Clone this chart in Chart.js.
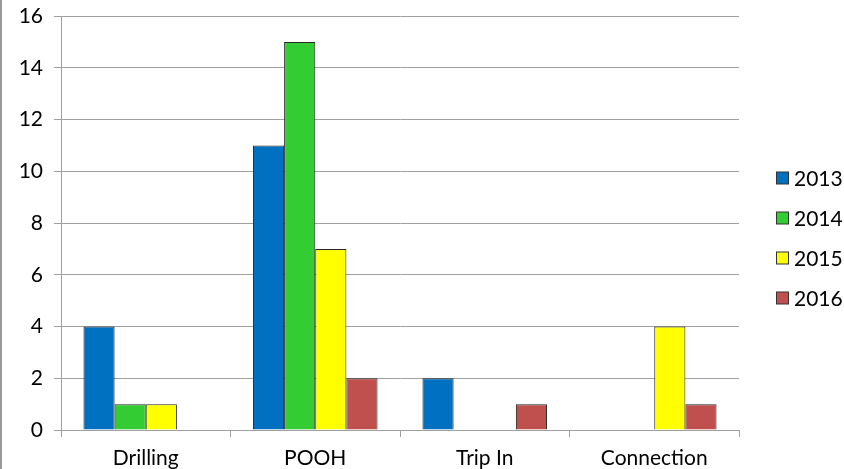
<!DOCTYPE html>
<html>
<head>
<meta charset="utf-8">
<script src="https://cdn.jsdelivr.net/npm/chart.js@4/dist/chart.umd.min.js"></script>
<style>
  html, body { margin: 0; padding: 0; background: #fff; }
  #wrap { width: 844px; height: 469px; position: relative; }
</style>
</head>
<body>
<div id="wrap"><canvas id="c" width="844" height="469"></canvas></div>
<script>
const categories = ['Drilling', 'POOH', 'Trip In', 'Connection'];
const years = ['2013', '2014', '2015', '2016'];
const values2013 = [4, 11, 2, 0];
const values2014 = [1, 15, 0, 0];
const values2015 = [1, 7, 0, 4];
const values2016 = [0, 2, 1, 1];
const yTicks = [0, 2, 4, 6, 8, 10, 12, 14, 16];

const colors = ['#0070C0', '#33CC33', '#FFFF00', '#C0504D'];
const series = [values2013, values2014, values2015, values2016];
const FONT = 'Lato, "Open Sans", sans-serif';
const FONT_SIZE = 21;

// Legend on the right, drawn manually for exact spacing
const sideLegend = {
  id: 'sideLegend',
  afterDraw(chart) {
    const ctx = chart.ctx;
    const ds = chart.data.datasets;
    const gap = 40;
    const mid = 238;
    const top = mid - gap * (ds.length - 1) / 2;
    ctx.save();
    ctx.font = FONT_SIZE + 'px ' + FONT;
    ctx.textBaseline = 'middle';
    ds.forEach((d, i) => {
      const y = top + i * gap;
      ctx.fillStyle = d.backgroundColor;
      ctx.fillRect(776.5, y - 6, 12, 12);
      ctx.strokeStyle = '#333';
      ctx.lineWidth = 1;
      ctx.strokeRect(776.5, y - 6, 12, 12);
      ctx.fillStyle = '#000';
      ctx.fillText(d.label, 794, y + 1);
    });
    // frame line at the left edge
    ctx.strokeStyle = '#9a9a9a';
    ctx.lineWidth = 2;
    ctx.beginPath();
    ctx.moveTo(1, 0);
    ctx.lineTo(1, chart.height);
    ctx.stroke();
    ctx.restore();
  }
};

new Chart(document.getElementById('c'), {
  type: 'bar',
  data: {
    labels: categories,
    datasets: years.map((y, i) => ({
      label: y,
      data: series[i],
      backgroundColor: colors[i],
      borderColor: '#262626',
      borderWidth: 1,
      borderSkipped: 'bottom',
      categoryPercentage: 0.735,
      barPercentage: 1.0
    }))
  },
  options: {
    responsive: false,
    animation: false,
    layout: { padding: { left: 0, right: 105, top: 16, bottom: 0 } },
    plugins: {
      legend: { display: false },
      tooltip: { enabled: false }
    },
    scales: {
      x: {
        afterFit(scale) { scale.height = 39; },
        grid: {
          offset: true,
          drawOnChartArea: false,
          drawTicks: true,
          tickLength: 7,
          color: '#a0a0a0'
        },
        border: { color: '#a0a0a0', width: 1 },
        ticks: {
          color: '#000',
          font: { family: FONT, size: FONT_SIZE },
          padding: 9
        }
      },
      y: {
        min: 0,
        max: 16,
        afterFit(scale) {
          scale.width = 61;
          scale.paddingTop = 0;
          scale.paddingBottom = 0;
        },
        afterBuildTicks(scale) { scale.ticks = yTicks.map(v => ({ value: v })); },
        grid: {
          color: '#a0a0a0',
          tickLength: 7
        },
        border: { color: '#a0a0a0', width: 1 },
        ticks: {
          color: '#000',
          font: { family: FONT, size: FONT_SIZE },
          padding: 11
        }
      }
    }
  },
  plugins: [sideLegend]
});
</script>
</body>
</html>
